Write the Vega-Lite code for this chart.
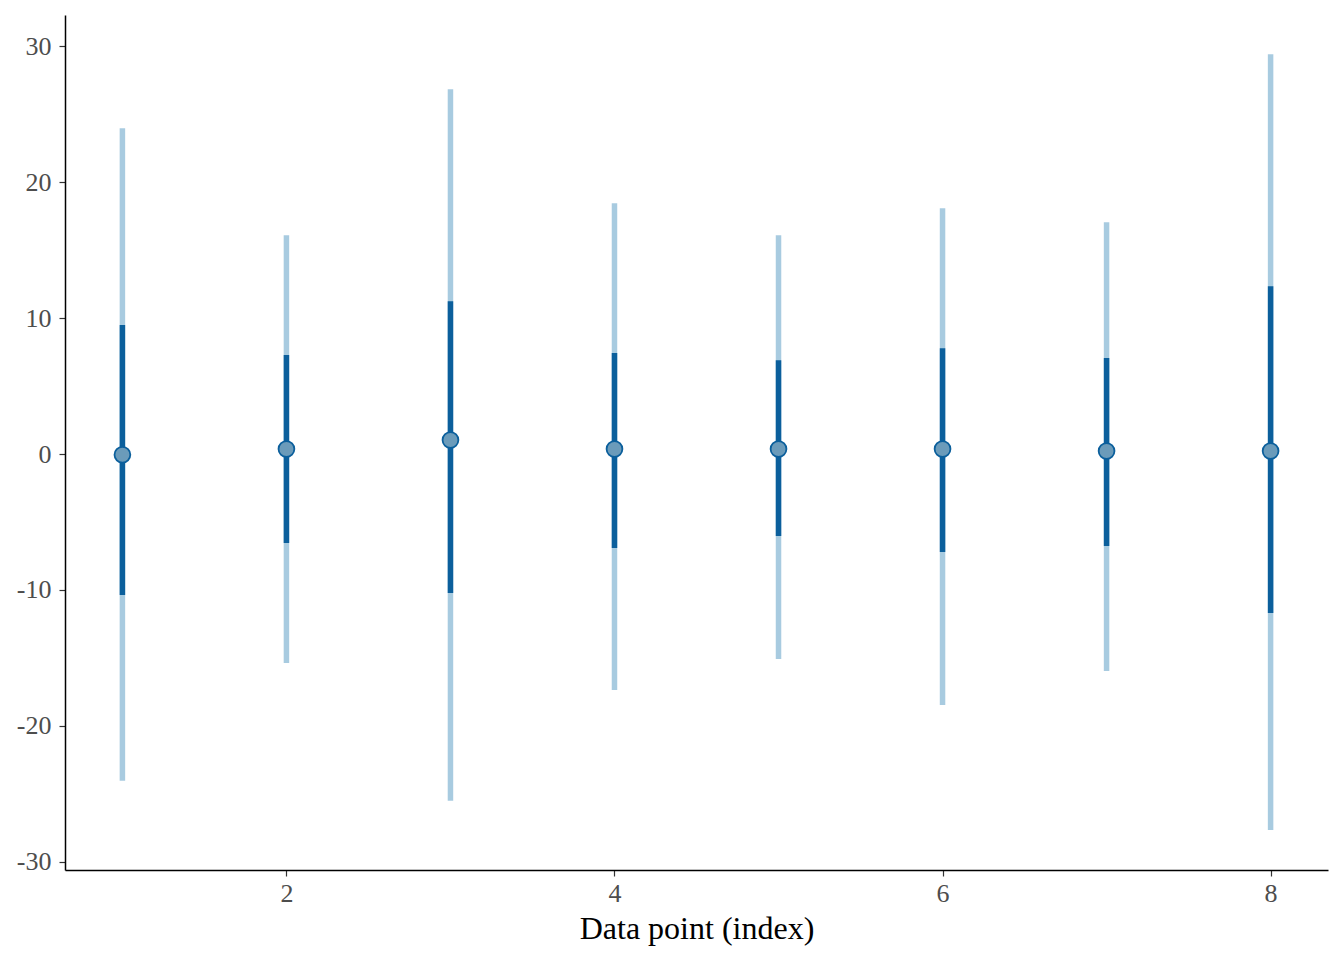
{
  "$schema": "https://vega.github.io/schema/vega-lite/v6.json",
  "autosize": {"type": "none"},
  "width": 1263,
  "height": 855,
  "padding": {"left": 65, "top": 15, "right": 16, "bottom": 90},
  "background": "white",
  "config": {"view": {"stroke": null}, "font": "Liberation Serif"},
  "data": {"values": [
    {"idx": 1, "est": -0.05, "lo50": -10.37, "hi50": 9.49, "lo95": -24.04, "hi95": 23.97},
    {"idx": 2, "est": 0.37, "lo50": -6.54, "hi50": 7.28, "lo95": -15.37, "hi95": 16.1},
    {"idx": 3, "est": 1.03, "lo50": -10.22, "hi50": 11.25, "lo95": -25.51, "hi95": 26.84},
    {"idx": 4, "est": 0.37, "lo50": -6.91, "hi50": 7.43, "lo95": -17.35, "hi95": 18.46},
    {"idx": 5, "est": 0.37, "lo50": -6.03, "hi50": 6.91, "lo95": -15.07, "hi95": 16.1},
    {"idx": 6, "est": 0.37, "lo50": -7.2, "hi50": 7.79, "lo95": -18.46, "hi95": 18.09},
    {"idx": 7, "est": 0.22, "lo50": -6.76, "hi50": 7.06, "lo95": -15.96, "hi95": 17.06},
    {"idx": 8, "est": 0.22, "lo50": -11.69, "hi50": 12.35, "lo95": -27.65, "hi95": 29.41}
  ]},
  "encoding": {
    "x": {
      "field": "idx", "type": "quantitative",
      "scale": {"domain": [0.65, 8.35], "nice": false, "zero": false},
      "axis": {
        "title": "Data point (index)", "values": [2, 4, 6, 8], "grid": false,
        "domainColor": "black", "domainWidth": 1.5, "tickColor": "#333333", "tickSize": 6, "tickWidth": 1.2,
        "labelColor": "#4d4d4d", "labelFontSize": 26, "labelPadding": 4,
        "titleFontSize": 32, "titleColor": "black", "titleFontWeight": "normal", "titlePadding": 7
      }
    }
  },
  "layer": [
    {
      "mark": {"type": "rule", "strokeWidth": 5.5, "color": "#a8cbe0"},
      "encoding": {
        "y": {
          "field": "lo95", "type": "quantitative",
          "scale": {"domain": [-30.6, 32.3], "nice": false, "zero": false},
          "axis": {
            "title": null, "values": [-30, -20, -10, 0, 10, 20, 30], "grid": false,
            "labelExpr": "datum.value + ''",
            "domainColor": "black", "domainWidth": 1.5, "tickColor": "#333333", "tickSize": 6, "tickWidth": 1.2,
            "labelColor": "#4d4d4d", "labelFontSize": 26, "labelPadding": 8
          }
        },
        "y2": {"field": "hi95"}
      }
    },
    {
      "mark": {"type": "rule", "strokeWidth": 5.5, "color": "#0b5f9c"},
      "encoding": {"y": {"field": "lo50", "type": "quantitative"}, "y2": {"field": "hi50"}}
    },
    {
      "mark": {"type": "point", "filled": true, "shape": "circle", "size": 250, "fill": "#6b9bba", "stroke": "#0b5f9c", "strokeWidth": 1.8, "opacity": 1},
      "encoding": {"y": {"field": "est", "type": "quantitative"}}
    }
  ]
}
